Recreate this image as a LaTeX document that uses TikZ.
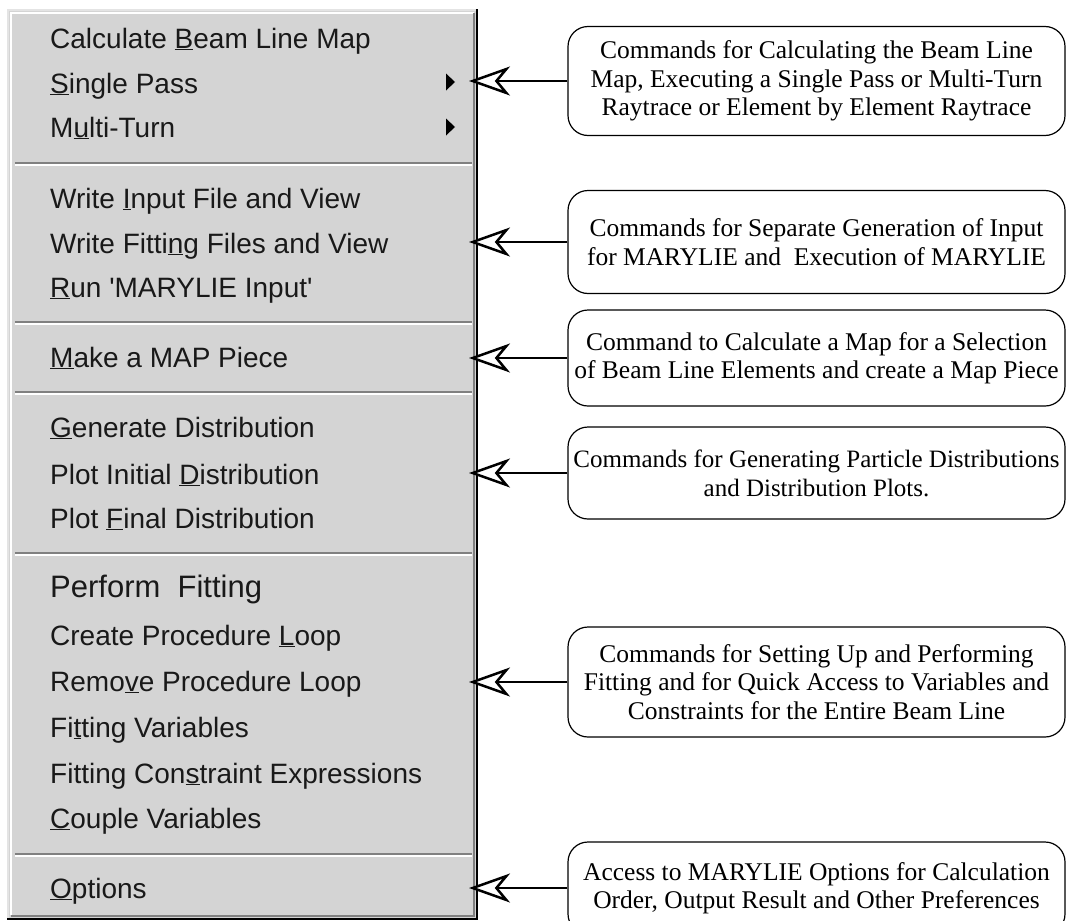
\documentclass[tikz,border=0pt]{standalone}
\usepackage{fontspec}
\setmainfont{Liberation Serif}
\newfontfamily\menufont{Liberation Sans}
\usetikzlibrary{arrows.meta,positioning}

\definecolor{panel}{HTML}{D4D4D4}
\definecolor{edgedark}{HTML}{808080}
\definecolor{edgelight}{HTML}{E4E4E4}

\newcommand{\hotkey}[1]{\underline{#1}}

\tikzset{
  item/.style={anchor=base west, inner sep=0pt, text=black!90, font=\menufont\fontsize{28}{28}\selectfont},
  callout/.style={draw, fill=white, line width=1.2pt, rounded corners=20pt, inner xsep=2pt,
    minimum width=497pt, align=center, font=\fontsize{25.5}{28.5}\selectfont},
  pointer/.style={line width=2.5pt,
    -{Stealth[length=41pt,width=29pt,inset=12pt,fill=white,line width=2.5pt]}}
}

\begin{document}
\begin{tikzpicture}[x=1pt,y=-1pt]
  \clip (0,0) rectangle (1066,921);

  % the menu panel
  \fill[panel] (8,10) rectangle (477,919);
  \draw[edgelight,line width=2pt] (8,919) -- (8,10) -- (477,10);
  \draw[white,line width=2pt] (11,915) -- (11,13) -- (474,13);
  \draw[edgedark,line width=2pt] (11,916) -- (474,916) -- (474,13);
  \draw[line width=2.5pt] (7,919) -- (477,919) -- (477,9);

  \foreach \y in {163,322,392,553,854} {
    \draw[edgedark,line width=2pt] (15,\y) -- (472,\y);
    \draw[white,line width=2pt] (15,\y+2) -- (472,\y+2);
  }

  \foreach \nm/\y/\txt in {
      calc/48/{Calculate \hotkey{B}eam Line Map},
      single/93/{\hotkey{S}ingle Pass},
      multi/137/{M\hotkey{u}lti-Turn},
      writein/208/{Write \hotkey{I}nput File and View},
      writefit/253/{Write Fitti\hotkey{n}g Files and View},
      run/297/{\hotkey{R}un \textquotesingle MARYLIE Input\textquotesingle},
      mappiece/367/{\hotkey{M}ake a MAP Piece},
      gen/437/{\hotkey{G}enerate Distribution},
      plotinit/484/{Plot Initial \hotkey{D}istribution},
      plotfin/528/{Plot \hotkey{F}inal Distribution},
      create/645/{Create Procedure \hotkey{L}oop},
      remove/691/{Remo\hotkey{v}e Procedure Loop},
      fitvar/737/{Fi\hotkey{t}ting Variables},
      constr/783/{Fitting Con\hotkey{s}traint Expressions},
      couple/828/{\hotkey{C}ouple Variables},
      options/898/{\hotkey{O}ptions}}
    \node[item] (\nm) at (50,\y) {\txt};
  \node[item, font=\menufont\fontsize{31}{31}\selectfont] (perform) at (50,597) {Perform\ \ Fitting};

  % submenu marks
  \foreach \y in {82,127}
    \fill (446,\y-8.5) -- (455,\y) -- (446,\y+8.5) -- cycle;

  % callouts
  \coordinate (edge) at (469,0);
  \node[callout, minimum height=109pt] (passbox) at (816.5,81)
    {Commands for Calculating the Beam Line\\Map, Executing a Single Pass or Multi-Turn\\Raytrace or Element by Element Raytrace};
  \node[callout, minimum height=103pt] (inputbox) at (816.5,242)
    {Commands for Separate Generation of Input\\for MARYLIE and\ \ Execution of MARYLIE};
  \node[callout, minimum height=96pt] (piecebox) at (816.5,358)
    {Command to Calculate a Map for a Selection\\of Beam Line Elements and create a Map Piece};
  \node[callout, minimum height=92pt, font=\fontsize{25}{29}\selectfont] (distbox) at (816.5,473)
    {Commands for Generating Particle Distributions\\and Distribution Plots.};
  \node[callout, minimum height=110pt] (fitbox) at (816.5,682)
    {Commands for Setting Up and Performing\\Fitting and for Quick Access to Variables and\\Constraints for the Entire Beam Line};
  \node[callout, minimum height=92pt] (optbox) at (816.5,888)
    {Access to MARYLIE Options for Calculation\\Order, Output Result and Other Preferences};

  \foreach \b in {passbox,inputbox,piecebox,distbox,fitbox,optbox}
    \draw[pointer] (\b.west) -- (\b.west -| edge);
\end{tikzpicture}
\end{document}
